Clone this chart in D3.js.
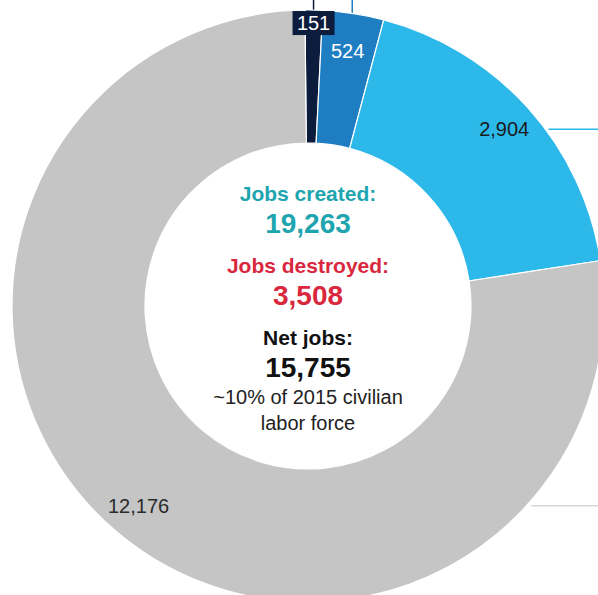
<!DOCTYPE html>
<html>
<head>
<meta charset="utf-8">
<script src="https://cdnjs.cloudflare.com/ajax/libs/d3/7.8.5/d3.min.js"></script>
<style>
  body { margin: 0; background: white; }
  svg text { font-family: "Liberation Sans", Arial, sans-serif; }
</style>
</head>
<body>
<div id="donut-div"></div>
<script>
// slice data, clockwise from the top
var categories = ["small", "medium", "large", "rest"]
var values = [151, 524, 2904, 12176]
var slice_labels = ["151", "524", "2,904", "12,176"]
var colors = ["#0b1c3d", "#1f7dc2", "#2db8ea", "#c5c5c5"]

// centre annotation lines
var center_lines = ["Jobs created:", "19,263", "Jobs destroyed:", "3,508", "Net jobs:", "15,755", "~10% of 2015 civilian", "labor force"]

var WIDTH = 598, HEIGHT = 595
var CX = 308, CY = 306
var R_OUT = 296, R_IN = 163
var OFFSET = -0.6 * Math.PI / 180

const svg = d3.select("#donut-div").append("svg")
  .attr("width", WIDTH)
  .attr("height", HEIGHT)

const g = svg.append("g")
  .attr("transform", `translate(${CX}, ${CY})`)

var data = categories.map(function(c, i) {
  return {name: c, value: values[i], label: slice_labels[i], color: colors[i]}
})

var pie = d3.pie()
  .value(d => d.value)
  .sort(null)
  .startAngle(OFFSET)
  .endAngle(OFFSET + 2 * Math.PI)

var arcs = pie(data)

var arc = d3.arc()
  .innerRadius(R_IN)
  .outerRadius(R_OUT)

// point at radius r along the middle of slice d
function polar(d, r) {
  var a = (d.startAngle + d.endAngle) / 2
  return [r * Math.sin(a), -r * Math.cos(a)]
}

// leader lines (drawn first so slices sit on top)
var leaders = g.append("g")

// 151: vertical up to the top edge, ending at the label box
var p0 = polar(arcs[0], 283)
leaders.append("line")
  .attr("x1", p0[0]).attr("x2", p0[0])
  .attr("y1", -CY).attr("y2", p0[1] - 12)
  .attr("stroke", colors[0])
  .attr("stroke-width", 1.5)

// 524: vertical up from the outer edge
var p1 = polar(arcs[1], R_OUT - 8)
leaders.append("line")
  .attr("x1", p1[0]).attr("x2", p1[0])
  .attr("y1", -CY).attr("y2", p1[1])
  .attr("stroke", colors[1])
  .attr("stroke-width", 1.5)

// 2,904: horizontal to the right edge at the label height
var p2 = polar(arcs[2], 264)
var x2 = Math.sqrt(R_OUT * R_OUT - p2[1] * p2[1]) + 3
leaders.append("line")
  .attr("x1", x2).attr("x2", WIDTH - CX)
  .attr("y1", p2[1]).attr("y2", p2[1])
  .attr("stroke", colors[2])
  .attr("stroke-width", 1.5)

// 12,176: horizontal on the right side, same height as its label
var p3 = polar(arcs[3], 262)
var x3 = Math.sqrt(R_OUT * R_OUT - p3[1] * p3[1]) + 5
leaders.append("line")
  .attr("x1", x3).attr("x2", WIDTH - CX)
  .attr("y1", p3[1]).attr("y2", p3[1])
  .attr("stroke", "#d6d6d6")
  .attr("stroke-width", 1.5)

g.selectAll("path.slice")
  .data(arcs)
  .enter()
  .append("path")
  .attr("class", "slice")
  .attr("d", arc)
  .attr("fill", d => d.data.color)
  .attr("stroke", "white")
  .attr("stroke-width", 1.2)

// slice labels
var lab0 = polar(arcs[0], 283)
g.append("rect")
  .attr("x", lab0[0] - 21)
  .attr("y", lab0[1] - 12)
  .attr("width", 42)
  .attr("height", 24)
  .attr("fill", colors[0])

g.append("text")
  .attr("x", lab0[0])
  .attr("y", lab0[1] + 7)
  .attr("text-anchor", "middle")
  .style("font-size", "20px")
  .style("fill", "white")
  .text(arcs[0].data.label)

var label_r = [0, 258, 264, 262]
var label_fill = [null, "white", "#1a1a1a", "#2a2a2a"]
arcs.slice(1).forEach(function(d, j) {
  var i = j + 1
  var p = polar(d, label_r[i])
  g.append("text")
    .attr("x", p[0])
    .attr("y", p[1] + 7)
    .attr("text-anchor", "middle")
    .style("font-size", "20px")
    .style("fill", label_fill[i])
    .text(d.data.label)
})

// centre text
var line_y = [-105, -73, -33, -1, 39, 71, 98, 124]
var line_size = [21, 28, 21, 28, 21, 28, 20, 20]
var line_weight = ["bold", "bold", "bold", "bold", "bold", "bold", "normal", "normal"]
var line_color = ["#1ea5af", "#1ea5af", "#d9283e", "#d9283e", "#111", "#111", "#222", "#222"]

g.selectAll("text.center")
  .data(center_lines)
  .enter()
  .append("text")
  .attr("class", "center")
  .attr("x", 0)
  .attr("y", (d, i) => line_y[i])
  .attr("text-anchor", "middle")
  .style("font-size", (d, i) => line_size[i] + "px")
  .style("font-weight", (d, i) => line_weight[i])
  .style("fill", (d, i) => line_color[i])
  .text(d => d)
</script>
</body>
</html>
